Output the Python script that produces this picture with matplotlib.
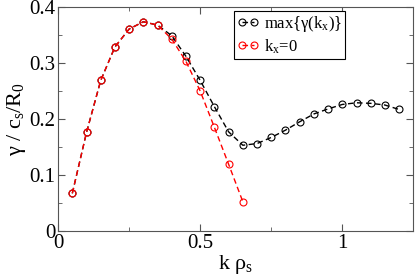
import numpy as np
import matplotlib
matplotlib.use('Agg')
import matplotlib.pyplot as plt
from matplotlib.ticker import MultipleLocator

plt.rcParams['font.family'] = ['Liberation Serif', 'DejaVu Serif']
plt.rcParams['mathtext.fontset'] = 'custom'
plt.rcParams['mathtext.rm'] = 'Liberation Serif'
plt.rcParams['mathtext.it'] = 'Liberation Serif'

# max growth rate over kx
k_max = [0.05, 0.1, 0.15, 0.2, 0.25, 0.3, 0.35, 0.4, 0.45, 0.5, 0.55, 0.6, 0.65,
         0.7, 0.75, 0.8, 0.85, 0.9, 0.95, 1.0, 1.05, 1.1, 1.15, 1.2]
g_max = [0.067, 0.176, 0.269, 0.329, 0.361, 0.374, 0.368, 0.349, 0.312, 0.269,
         0.222, 0.177, 0.153, 0.156, 0.167, 0.180, 0.195, 0.209, 0.218, 0.226,
         0.229, 0.228, 0.225, 0.217]
# kx = 0
k_0 = [0.05, 0.1, 0.15, 0.2, 0.25, 0.3, 0.35, 0.4, 0.45, 0.5, 0.55, 0.6, 0.65]
g_0 = [0.067, 0.176, 0.269, 0.329, 0.361, 0.374, 0.368, 0.343, 0.303, 0.250,
       0.185, 0.119, 0.052]

fig = plt.figure(figsize=(4.15, 2.78), dpi=100)
ax = fig.add_axes([0.14, 0.17, 0.856, 0.804])

ax.plot(k_max, g_max, '--', color='black', lw=1, marker='o', ms=5, mfc='none',
        mew=0.8, dashes=(4, 2.5), label=r'max{$\gamma$(k$_x$)}')
ax.plot(k_0, g_0, '--', color='red', lw=1, marker='o', ms=5, mfc='none',
        mew=0.8, dashes=(4, 2.5), label=r'k$_x$=0')

ax.set_xlim(0, 1.25)
ax.set_ylim(0, 0.4)
ax.xaxis.set_major_locator(MultipleLocator(0.5))
ax.xaxis.set_minor_locator(MultipleLocator(0.25))
ax.yaxis.set_major_locator(MultipleLocator(0.1))
ax.yaxis.set_minor_locator(MultipleLocator(0.05))
ax.xaxis.set_major_formatter(plt.FuncFormatter(lambda v, p: '%g' % v))
ax.yaxis.set_major_formatter(plt.FuncFormatter(lambda v, p: '%g' % v))
ax.tick_params(which='both', direction='in', top=True, right=True, labelsize=15,
               color='#555555', pad=2)
ax.tick_params(which='major', length=5)
ax.tick_params(which='minor', length=3)
for s in ax.spines.values():
    s.set_color('#555555')

ax.set_xlabel(r'k $\rho_s$', fontsize=16, labelpad=0)
ax.set_ylabel(r'$\gamma$ / c$_s$/R$_0$', fontsize=16, labelpad=1)

leg = ax.legend(loc='upper left', bbox_to_anchor=(0.495, 0.985), fontsize=12,
                numpoints=2, handlelength=1.3, handletextpad=0.3,
                borderpad=0.2, labelspacing=0.2, fancybox=False,
                framealpha=1, borderaxespad=0)
leg.get_frame().set_edgecolor('black')
leg.get_frame().set_linewidth(0.8)

plt.savefig('out.png', dpi=100)
